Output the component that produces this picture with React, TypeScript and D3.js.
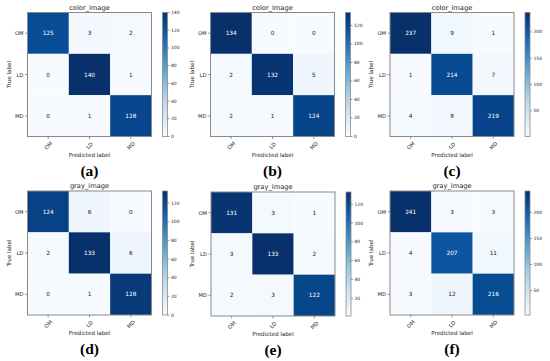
import React from "react";
import * as d3 from "d3";

const categories = ["OM", "LD", "MD"];
const panelLetters = ["(a)", "(b)", "(c)", "(d)", "(e)", "(f)"];
const panelTitles = ["color_image", "color_image", "color_image", "gray_image", "gray_image", "gray_image"];

const matrixA = [[125, 3, 2], [0, 140, 1], [0, 1, 128]];
const matrixB = [[134, 0, 0], [2, 132, 5], [2, 1, 124]];
const matrixC = [[237, 9, 1], [1, 214, 7], [4, 8, 219]];
const matrixD = [[124, 6, 0], [2, 133, 6], [0, 1, 128]];
const matrixE = [[131, 3, 1], [3, 133, 2], [2, 3, 122]];
const matrixF = [[241, 3, 3], [4, 207, 11], [3, 12, 216]];
const matrices = [matrixA, matrixB, matrixC, matrixD, matrixE, matrixF];

const ticksA = [0, 20, 40, 60, 80, 100, 120, 140];
const ticksB = [0, 20, 40, 60, 80, 100, 120];
const ticksC = [50, 100, 150, 200];
const ticksD = [0, 20, 40, 60, 80, 100, 120];
const ticksE = [20, 40, 60, 80, 100, 120];
const ticksF = [50, 100, 150, 200];
const colorbarTicks = [ticksA, ticksB, ticksC, ticksD, ticksE, ticksF];

const bluesStops = ["#f7fbff", "#deebf7", "#c6dbef", "#9ecae1", "#6baed6", "#4292c6", "#2171b5", "#08519c", "#08306b"];
const blues = d3
  .scaleLinear<string>()
  .domain(bluesStops.map((_, i) => i / (bluesStops.length - 1)))
  .range(bluesStops)
  .interpolate(d3.interpolateRgb);

const layout = [
  { mx: 27.5, my: 12.5 },
  { mx: 210.5, my: 12.5 },
  { mx: 390, my: 12.5 },
  { mx: 27.5, my: 191 },
  { mx: 211, my: 192 },
  { mx: 390, my: 191 },
];
const SIZE = 124;
const FONT = "DejaVu Sans, sans-serif";
const TXT = "#222";

function Panel({ idx }: { idx: number }) {
  const m = matrices[idx];
  const { mx, my } = layout[idx];
  const flat = m.flat();
  const vmin = d3.min(flat)!;
  const vmax = d3.max(flat)!;
  const norm = d3.scaleLinear().domain([vmin, vmax]).range([0, 1]).clamp(true);
  const band = d3.scaleBand<number>().domain([0, 1, 2]).range([0, SIZE]);
  const x = (i: number) => mx + band(i)!;
  const y = (i: number) => my + band(i)!;
  const bw = band.bandwidth();
  const thresh = vmax / 2;
  const cbX = mx + SIZE + 11;
  const cbW = 5;
  const cbScale = d3.scaleLinear().domain([vmin, vmax]).range([my + SIZE, my]);
  const gid = `grad${idx}`;
  const stops = d3.range(0, 1.0001, 0.05);
  return (
    <g>
      <defs>
        <linearGradient id={gid} x1="0" y1="1" x2="0" y2="0">
          {stops.map((t) => (
            <stop key={t} offset={t} stopColor={blues(t)} />
          ))}
        </linearGradient>
      </defs>
      <text x={mx + SIZE / 2} y={my - 3} textAnchor="middle" fontFamily={FONT} fontSize={6.7} fill={TXT}>
        {panelTitles[idx]}
      </text>
      {m.map((row, r) =>
        row.map((v, c) => (
          <g key={`${r}-${c}`}>
            <rect x={x(c)} y={y(r)} width={bw} height={bw} fill={blues(norm(v))} />
            <text
              x={x(c) + bw / 2}
              y={y(r) + bw / 2}
              textAnchor="middle"
              dominantBaseline="central"
              fontFamily={FONT}
              fontSize={5.8}
              fill={v > thresh ? "#fff" : TXT}
            >
              {v}
            </text>
          </g>
        ))
      )}
      <rect x={mx} y={my} width={SIZE} height={SIZE} fill="none" stroke="#8a8a8a" strokeWidth={1} />
      {categories.map((cat, i) => (
        <g key={cat}>
          <line x1={mx - 2.5} x2={mx} y1={y(i) + bw / 2} y2={y(i) + bw / 2} stroke="#555" strokeWidth={0.6} />
          <text x={mx - 4} y={y(i) + bw / 2} textAnchor="end" dominantBaseline="central" fontFamily={FONT} fontSize={5.2} fill={TXT}>
            {cat}
          </text>
          <line x1={x(i) + bw / 2} x2={x(i) + bw / 2} y1={my + SIZE} y2={my + SIZE + 2.5} stroke="#555" strokeWidth={0.6} />
          <text
            transform={`translate(${x(i) + bw / 2},${my + SIZE + 9}) rotate(-45)`}
            textAnchor="middle"
            dominantBaseline="central"
            fontFamily={FONT}
            fontSize={5.2}
            fill={TXT}
          >
            {cat}
          </text>
        </g>
      ))}
      <text x={mx + SIZE / 2} y={my + SIZE + 20} textAnchor="middle" fontFamily={FONT} fontSize={5.6} fill={TXT}>
        Predicted label
      </text>
      <text
        transform={`translate(${mx - 19},${my + SIZE / 2}) rotate(-90)`}
        textAnchor="middle"
        dominantBaseline="central"
        fontFamily={FONT}
        fontSize={5.6}
        fill={TXT}
      >
        True label
      </text>
      <rect x={cbX} y={my} width={cbW} height={SIZE} fill={`url(#${gid})`} stroke="#8a8a8a" strokeWidth={0.8} />
      {colorbarTicks[idx].map((t) => (
        <g key={t}>
          <line x1={cbX + cbW} x2={cbX + cbW + 2} y1={cbScale(t)} y2={cbScale(t)} stroke="#555" strokeWidth={0.6} />
          <text x={cbX + cbW + 3.5} y={cbScale(t)} dominantBaseline="central" fontFamily={FONT} fontSize={4.5} fill={TXT}>
            {t}
          </text>
        </g>
      ))}
      <text
        x={mx + SIZE / 2}
        y={my + SIZE + 39}
        textAnchor="middle"
        fontFamily="Liberation Serif, Times New Roman, serif"
        fontWeight="bold"
        fontSize={15.5}
        fill="#000"
      >
        {panelLetters[idx]}
      </text>
    </g>
  );
}

export default function App() {
  return (
    <svg width={550} height={361} style={{ position: "absolute", left: 0, top: 0, background: "#fff" }}>
      <rect width={550} height={361} fill="#fff" />
      {matrices.map((_, i) => (
        <Panel key={i} idx={i} />
      ))}
    </svg>
  );
}
